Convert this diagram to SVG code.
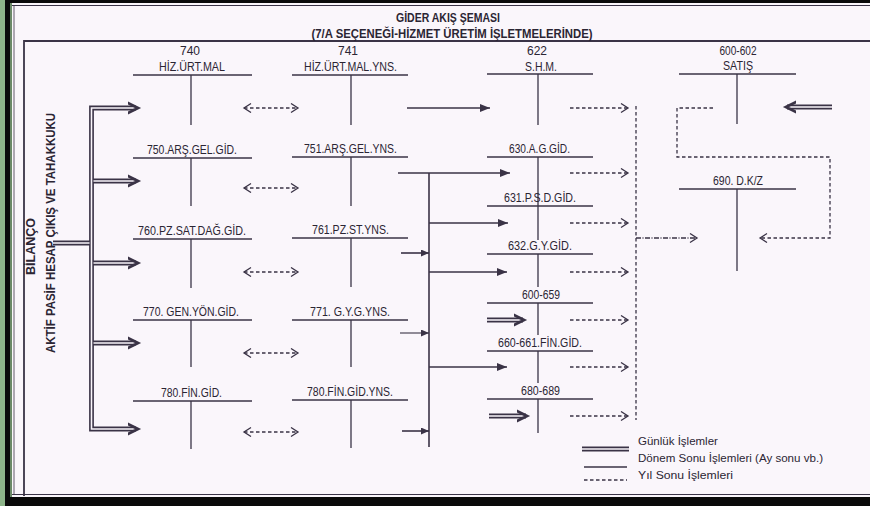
<svg xmlns="http://www.w3.org/2000/svg" width="870" height="506" viewBox="0 0 870 506">
<defs>
<style>
.ln{stroke:#3a3346;stroke-width:1.5;fill:none}
.vt{stroke:#3a3346;stroke-width:1.3;fill:none}
.ar{stroke:#3a3346;stroke-width:1.6;fill:none}
.th{stroke:#3a3346;stroke-width:1.1;fill:none}
.ds{stroke:#3a3346;stroke-width:1.3;stroke-dasharray:3.5 2.5;fill:none}
.dbo{stroke:#3a3346;stroke-width:4.8;fill:none}
.dbi{stroke:#faf6fb;stroke-width:1.6;fill:none}
text{font-family:"Liberation Sans",Arial,sans-serif;fill:#2b2533}
.lb{font-size:12px;text-anchor:middle}
.tt{font-size:12.5px;font-weight:bold;text-anchor:middle}
.vx{font-size:13px;font-weight:bold;text-anchor:middle}
.lg{font-size:11.5px}
</style>
<marker id="tri" markerUnits="userSpaceOnUse" markerWidth="12" markerHeight="10" refX="10" refY="4" orient="auto">
<path d="M0,0 L10,4 L0,8 Z" fill="#3a3346"/>
</marker>
<marker id="trs" markerUnits="userSpaceOnUse" markerWidth="10" markerHeight="8" refX="8" refY="3.5" orient="auto">
<path d="M0,0 L8,3.5 L0,7 Z" fill="#3a3346"/>
</marker>
<marker id="chv" markerUnits="userSpaceOnUse" markerWidth="10" markerHeight="12" refX="8" refY="5" orient="auto-start-reverse">
<path d="M1,0.5 L8,5 L1,9.5" stroke="#3a3346" stroke-width="1.3" fill="none"/>
</marker>
<marker id="dbh" markerUnits="userSpaceOnUse" markerWidth="18" markerHeight="18" refX="8" refY="9" orient="auto">
<path d="M-3,2.5 L10,9 L-3,15.5" stroke="#3a3346" stroke-width="2.8" fill="none"/>
</marker>
</defs>
<!-- frame -->
<rect x="0" y="0" width="870" height="506" fill="#0a0a0a"/>
<rect x="0" y="0" width="5" height="506" fill="#8db489"/>
<rect x="12" y="3" width="858" height="494" fill="#faf6fb"/>
<line x1="11" y1="3" x2="11" y2="497" stroke="#8db489" stroke-width="1.5"/>
<line x1="12" y1="5.5" x2="870" y2="5.5" stroke="#3a3346" stroke-width="1"/>
<line x1="12" y1="494.5" x2="870" y2="494.5" stroke="#3a3346" stroke-width="1"/>
<line x1="14" y1="5" x2="14" y2="495" stroke="#3a3346" stroke-width="0.8"/>
<path d="M870,41 H24 V496" stroke="#3a3346" stroke-width="1.8" fill="none"/>

<g id="title">
<text class="tt" x="448" y="22" textLength="104" lengthAdjust="spacingAndGlyphs">GİDER AKIŞ ŞEMASI</text>
<text class="tt" x="452" y="38" textLength="281" lengthAdjust="spacingAndGlyphs">(7/A SEÇENEĞİ-HİZMET ÜRETİM İŞLETMELERİNDE)</text>
</g>

<g id="bilanco">
<text class="vx" transform="translate(35,246.5) rotate(-90)" textLength="57" lengthAdjust="spacingAndGlyphs">BİLANÇO</text>
<text class="vx" transform="translate(55,233) rotate(-90)" textLength="240" lengthAdjust="spacingAndGlyphs">AKTİF PASİF HESAP ÇIKIŞ VE TAHAKKUKU</text>
</g>

<!-- column 1 -->
<g id="n740">
<text class="lb" x="190" y="55">740</text>
<text class="lb" x="192" y="71" textLength="66" lengthAdjust="spacingAndGlyphs">HİZ.ÜRT.MAL</text>
<line class="ln" x1="133" y1="75" x2="252" y2="75"/><line class="vt" x1="191" y1="75" x2="191" y2="125"/>
</g>
<g id="n750">
<text class="lb" x="192" y="154" textLength="90" lengthAdjust="spacingAndGlyphs">750.ARŞ.GEL.GİD.</text>
<line class="ln" x1="133" y1="158" x2="252" y2="158"/><line class="vt" x1="191" y1="158" x2="191" y2="206"/>
</g>
<g id="n760">
<text class="lb" x="192" y="235" textLength="108" lengthAdjust="spacingAndGlyphs">760.PZ.SAT.DAĞ.GİD.</text>
<line class="ln" x1="133" y1="239" x2="252" y2="239"/><line class="vt" x1="191" y1="239" x2="191" y2="288"/>
</g>
<g id="n770">
<text class="lb" x="191" y="316" textLength="96" lengthAdjust="spacingAndGlyphs">770. GEN.YÖN.GİD.</text>
<line class="ln" x1="133" y1="320" x2="252" y2="320"/><line class="vt" x1="191" y1="320" x2="191" y2="367"/>
</g>
<g id="n780">
<text class="lb" x="191.5" y="397" textLength="61" lengthAdjust="spacingAndGlyphs">780.FİN.GİD.</text>
<line class="ln" x1="133" y1="401" x2="252" y2="401"/><line class="vt" x1="191" y1="401" x2="191" y2="449"/>
</g>

<!-- column 2 -->
<g id="n741">
<text class="lb" x="348" y="55">741</text>
<text class="lb" x="350.5" y="71" textLength="93" lengthAdjust="spacingAndGlyphs">HİZ.ÜRT.MAL.YNS.</text>
<line class="ln" x1="292" y1="75" x2="408" y2="75"/><line class="vt" x1="351" y1="75" x2="351" y2="125"/>
</g>
<g id="n751">
<text class="lb" x="350.5" y="153" textLength="93" lengthAdjust="spacingAndGlyphs">751.ARŞ.GEL.YNS.</text>
<line class="ln" x1="292" y1="157" x2="408" y2="157"/><line class="vt" x1="351" y1="157" x2="351" y2="206"/>
</g>
<g id="n761">
<text class="lb" x="350.5" y="234" textLength="77" lengthAdjust="spacingAndGlyphs">761.PZ.ST.YNS.</text>
<line class="ln" x1="292" y1="238" x2="408" y2="238"/><line class="vt" x1="351" y1="238" x2="351" y2="287"/>
</g>
<g id="n771">
<text class="lb" x="350" y="316" textLength="80" lengthAdjust="spacingAndGlyphs">771. G.Y.G.YNS.</text>
<line class="ln" x1="292" y1="320" x2="408" y2="320"/><line class="vt" x1="351" y1="320" x2="351" y2="367"/>
</g>
<g id="n780y">
<text class="lb" x="350" y="396" textLength="86" lengthAdjust="spacingAndGlyphs">780.FİN.GİD.YNS.</text>
<line class="ln" x1="292" y1="400" x2="408" y2="400"/><line class="vt" x1="351" y1="400" x2="351" y2="448"/>
</g>

<!-- column 3 -->
<g id="n622">
<text class="lb" x="537" y="55">622</text>
<text class="lb" x="541" y="71" textLength="32" lengthAdjust="spacingAndGlyphs">S.H.M.</text>
<line class="ln" x1="487" y1="74" x2="593" y2="74"/><line class="vt" x1="538" y1="74" x2="538" y2="125"/>
</g>
<g id="n630">
<text class="lb" x="539.5" y="153" textLength="61" lengthAdjust="spacingAndGlyphs">630.A.G.GİD.</text>
<line class="ln" x1="487" y1="157" x2="593" y2="157"/><line class="vt" x1="538" y1="157" x2="538" y2="206"/>
</g>
<g id="n631">
<text class="lb" x="540" y="202" textLength="72" lengthAdjust="spacingAndGlyphs">631.P.S.D.GİD.</text>
<line class="ln" x1="487" y1="206" x2="593" y2="206"/><line class="vt" x1="538" y1="206" x2="538" y2="240"/>
</g>
<g id="n632">
<text class="lb" x="540" y="250" textLength="64" lengthAdjust="spacingAndGlyphs">632.G.Y.GİD.</text>
<line class="ln" x1="487" y1="254" x2="593" y2="254"/><line class="vt" x1="538" y1="254" x2="538" y2="287"/>
</g>
<g id="n600659">
<text class="lb" x="541" y="299" textLength="38" lengthAdjust="spacingAndGlyphs">600-659</text>
<line class="ln" x1="487" y1="303" x2="593" y2="303"/><line class="vt" x1="538" y1="303" x2="538" y2="335"/>
</g>
<g id="n660">
<text class="lb" x="540" y="347" textLength="84" lengthAdjust="spacingAndGlyphs">660-661.FİN.GİD.</text>
<line class="ln" x1="487" y1="351" x2="593" y2="351"/><line class="vt" x1="538" y1="351" x2="538" y2="383"/>
</g>
<g id="n680">
<text class="lb" x="540.5" y="395" textLength="39" lengthAdjust="spacingAndGlyphs">680-689</text>
<line class="ln" x1="487" y1="399" x2="593" y2="399"/><line class="vt" x1="538" y1="399" x2="538" y2="433"/>
</g>

<!-- column 4 -->
<g id="n600602">
<text class="lb" x="738" y="55" textLength="37" lengthAdjust="spacingAndGlyphs">600-602</text>
<text class="lb" x="738" y="70" textLength="30" lengthAdjust="spacingAndGlyphs">SATIŞ</text>
<line class="ln" x1="679" y1="74" x2="796" y2="74"/><line class="vt" x1="737" y1="74" x2="737" y2="124"/>
</g>
<g id="n690">
<text class="lb" x="738" y="185" textLength="50" lengthAdjust="spacingAndGlyphs">690. D.K/Z</text>
<line class="ln" x1="679" y1="189" x2="796" y2="189"/><line class="vt" x1="737" y1="189" x2="737" y2="271"/>
</g>

<g id="connectors">
<!-- double-line bus and branches -->
<path class="dbo" d="M136,108 H91.5 V429 H136"/>
<path class="dbo" d="M91.5,181 H136 M91.5,263 H136 M91.5,343 H136 M53,243 H91.5"/>
<path class="dbi" d="M137,108 H91.5 V429 H137"/>
<path class="dbi" d="M93.5,181 H137 M93.5,263 H137 M93.5,343 H137 M53,243 H89.5"/>
<g marker-end="url(#dbh)" class="ar" stroke-opacity="0">
<path d="M134,108 H136"/><path d="M134,181 H136"/><path d="M134,263 H136"/><path d="M134,343 H136"/><path d="M134,429 H136"/>
</g>
<!-- double arrows into 600-659, 680-689 and SATIŞ -->
<path class="dbo" d="M487,320 H523 M489,416 H526 M832,107 H787"/>
<path class="dbi" d="M487,320 H524 M489,416 H527 M832,107 H786"/>
<g marker-end="url(#dbh)" class="ar" stroke-opacity="0">
<path d="M520,320 H522"/><path d="M523,416 H525"/><path d="M790,107 H788"/>
</g>

<!-- bidirectional dashed arrows col1-col2 -->
<g class="ds" marker-start="url(#chv)" marker-end="url(#chv)">
<path d="M244,108 H298"/><path d="M244,188 H298"/><path d="M244,272 H298"/><path d="M244,353 H298"/><path d="M244,432 H298"/>
</g>

<!-- solid arrows col2 to col3 -->
<path class="ar" d="M407,108 H490" marker-end="url(#tri)"/>
<path class="ar" d="M429,173 V447"/>
<path class="ar" d="M398,173 H510" marker-end="url(#tri)"/>
<path class="ar" d="M429,223 H508" marker-end="url(#tri)"/>
<path class="ar" d="M429,272 H507" marker-end="url(#tri)"/>
<path class="ar" d="M429,367 H507" marker-end="url(#tri)"/>
<path class="ar" d="M401,253 H429" marker-end="url(#trs)"/>
<path class="th" d="M400,333 H429" marker-end="url(#trs)"/>
<path class="ar" d="M402,431 H429" marker-end="url(#trs)"/>

<!-- dashed arrows col3 to collector -->
<g class="ds" marker-end="url(#chv)">
<path d="M570,108 H628"/><path d="M570,173 H628"/><path d="M570,223 H628"/><path d="M570,272 H628"/><path d="M570,320 H628"/><path d="M570,367 H628"/><path d="M570,416 H628"/>
</g>
<path class="ds" d="M636,106 V420"/>
<path class="ds" d="M636,238 H697" marker-end="url(#chv)" style="stroke-dasharray:5 1.5 1 1.5"/>
<!-- SATIŞ loop to 690 -->
<path class="ds" d="M713,108 H677 V157 H830 V238 H760" marker-end="url(#chv)"/>
</g>

<g id="legend">
<path class="dbo" d="M582,449 H629"/><path class="dbi" d="M582,449 H629"/>
<line class="ln" x1="584" y1="467" x2="627" y2="467"/>
<line class="ds" x1="584" y1="480" x2="627" y2="480"/>
<text class="lg" x="638" y="445">Günlük İşlemler</text>
<text class="lg" x="638" y="462" textLength="185" lengthAdjust="spacingAndGlyphs">Dönem Sonu İşlemleri (Ay sonu vb.)</text>
<text class="lg" x="638" y="479" textLength="95" lengthAdjust="spacingAndGlyphs">Yıl Sonu İşlemleri</text>
</g>
</svg>
